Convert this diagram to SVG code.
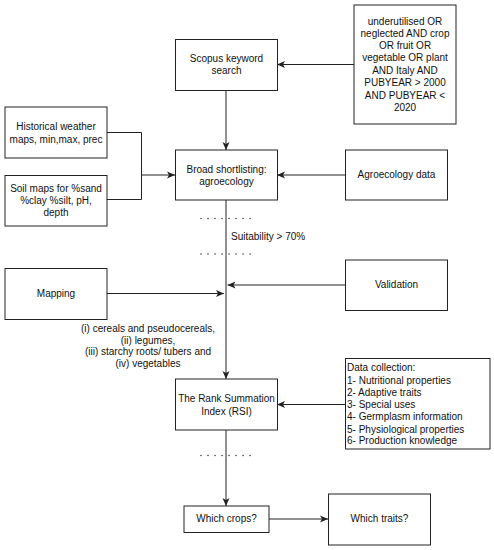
<svg xmlns="http://www.w3.org/2000/svg" width="494" height="550" viewBox="0 0 494 550">
<style>
.box{fill:#fff;stroke:#222;stroke-width:1}
text{font-family:"Liberation Sans",Arial,sans-serif;font-size:10px;fill:#111}
.c{text-anchor:middle}
.ln{fill:none;stroke:#222;stroke-width:1}
.dot{fill:none;stroke:#222;stroke-width:1.4;stroke-dasharray:0.01 7;stroke-linecap:round}
</style>
<defs>
<marker id="arr" viewBox="0 0 8 8" refX="8" refY="4" markerWidth="8" markerHeight="8" markerUnits="userSpaceOnUse" orient="auto">
<path d="M0,0.5 L8,4 L0,7.5 L2,4 z" fill="#222"/>
</marker>
</defs>
<rect width="494" height="550" fill="#fff"/>
<g id="connectors">
<line class="ln" x1="354" y1="64.5" x2="277" y2="64.5" marker-end="url(#arr)"/>
<line class="ln" x1="226" y1="90" x2="226" y2="150" marker-end="url(#arr)"/>
<polyline class="ln" points="107,132.5 141.5,132.5 141.5,199.5 107,199.5"/>
<line class="ln" x1="141.5" y1="175" x2="175" y2="175" marker-end="url(#arr)"/>
<line class="ln" x1="345" y1="175" x2="277" y2="175" marker-end="url(#arr)"/>
<line class="ln" x1="226" y1="200" x2="226" y2="379" marker-end="url(#arr)"/>
<line class="ln" x1="107" y1="293.5" x2="224" y2="293.5" marker-end="url(#arr)"/>
<line class="ln" x1="345" y1="285" x2="227.5" y2="285" marker-end="url(#arr)"/>
<line class="ln" x1="345" y1="404.5" x2="277" y2="404.5" marker-end="url(#arr)"/>
<line class="ln" x1="226" y1="430" x2="226" y2="506" marker-end="url(#arr)"/>
<line class="ln" x1="269" y1="519" x2="328" y2="519" marker-end="url(#arr)"/>
<line class="dot" x1="201" y1="218.5" x2="252" y2="218.5"/>
<line class="dot" x1="201" y1="254" x2="252" y2="254"/>
<line class="dot" x1="201" y1="455.5" x2="252" y2="455.5"/>
<text x="231" y="239.5">Suitability &gt; 70%</text>
<text class="c" x="148" y="331.8">(i) cereals and pseudocereals,</text>
<text class="c" x="148" y="343.5">(ii) legumes,</text>
<text class="c" x="148" y="355.2">(iii) starchy roots/ tubers and</text>
<text class="c" x="148" y="366.8">(iv) vegetables</text>
</g>
<g id="scopus">
<rect class="box" x="175.5" y="39.5" width="102" height="51"/>
<text class="c" x="226.5" y="61.5">Scopus keyword</text>
<text class="c" x="226.5" y="74.2">search</text>
</g>
<g id="query">
<rect class="box" x="354" y="5" width="102" height="119"/>
<text class="c" x="405" y="25.2">underutilised OR</text>
<text class="c" x="405" y="37.2">neglected AND crop</text>
<text class="c" x="405" y="49.2">OR fruit OR</text>
<text class="c" x="405" y="61.2">vegetable OR plant</text>
<text class="c" x="405" y="74.2">AND Italy AND</text>
<text class="c" x="405" y="86.2">PUBYEAR &gt; 2000</text>
<text class="c" x="405" y="98.5">AND PUBYEAR &lt;</text>
<text class="c" x="405" y="110.8">2020</text>
</g>
<g id="weather">
<rect class="box" x="5" y="107" width="102" height="51"/>
<text class="c" x="56" y="129.5">Historical weather</text>
<text class="c" x="56" y="142.5">maps, min,max, prec</text>
</g>
<g id="soil">
<rect class="box" x="5" y="175.5" width="102" height="50.5"/>
<text class="c" x="56" y="191.8">Soil maps for %sand</text>
<text class="c" x="56" y="203.5">%clay %silt, pH,</text>
<text class="c" x="56" y="216.2">depth</text>
</g>
<g id="broad">
<rect class="box" x="175.5" y="150" width="102" height="50"/>
<text class="c" x="226.5" y="172.8">Broad shortlisting:</text>
<text class="c" x="226.5" y="185.2">agroecology</text>
</g>
<g id="agrodata">
<rect class="box" x="345.5" y="150" width="102" height="50"/>
<text class="c" x="396.5" y="177.8">Agroecology data</text>
</g>
<g id="mapping">
<rect class="box" x="5" y="268.5" width="102" height="51"/>
<text class="c" x="56" y="296.8">Mapping</text>
</g>
<g id="validation">
<rect class="box" x="345.5" y="260" width="102" height="50.5"/>
<text class="c" x="396.5" y="287.8">Validation</text>
</g>
<g id="rsi">
<rect class="box" x="175.5" y="379" width="102" height="51"/>
<text class="c" x="226.5" y="401.8">The Rank Summation</text>
<text class="c" x="226.5" y="415.2">Index (RSI)</text>
</g>
<g id="datacollection">
<rect class="box" x="345.5" y="358.5" width="144.5" height="90.5"/>
<text x="347" y="370.8">Data collection:</text>
<text x="347" y="383.5">1- Nutritional properties</text>
<text x="347" y="395.8">2- Adaptive traits</text>
<text x="347" y="407.8">3- Special uses</text>
<text x="347" y="420.2">4- Germplasm information</text>
<text x="347" y="432.5">5- Physiological properties</text>
<text x="347" y="444.2">6- Production knowledge</text>
</g>
<g id="whichcrops">
<rect class="box" x="184" y="506" width="85" height="26.5"/>
<text class="c" x="226.5" y="522">Which crops?</text>
</g>
<g id="whichtraits">
<rect class="box" x="328.5" y="494" width="102" height="51"/>
<text class="c" x="379.5" y="522">Which traits?</text>
</g>
</svg>
